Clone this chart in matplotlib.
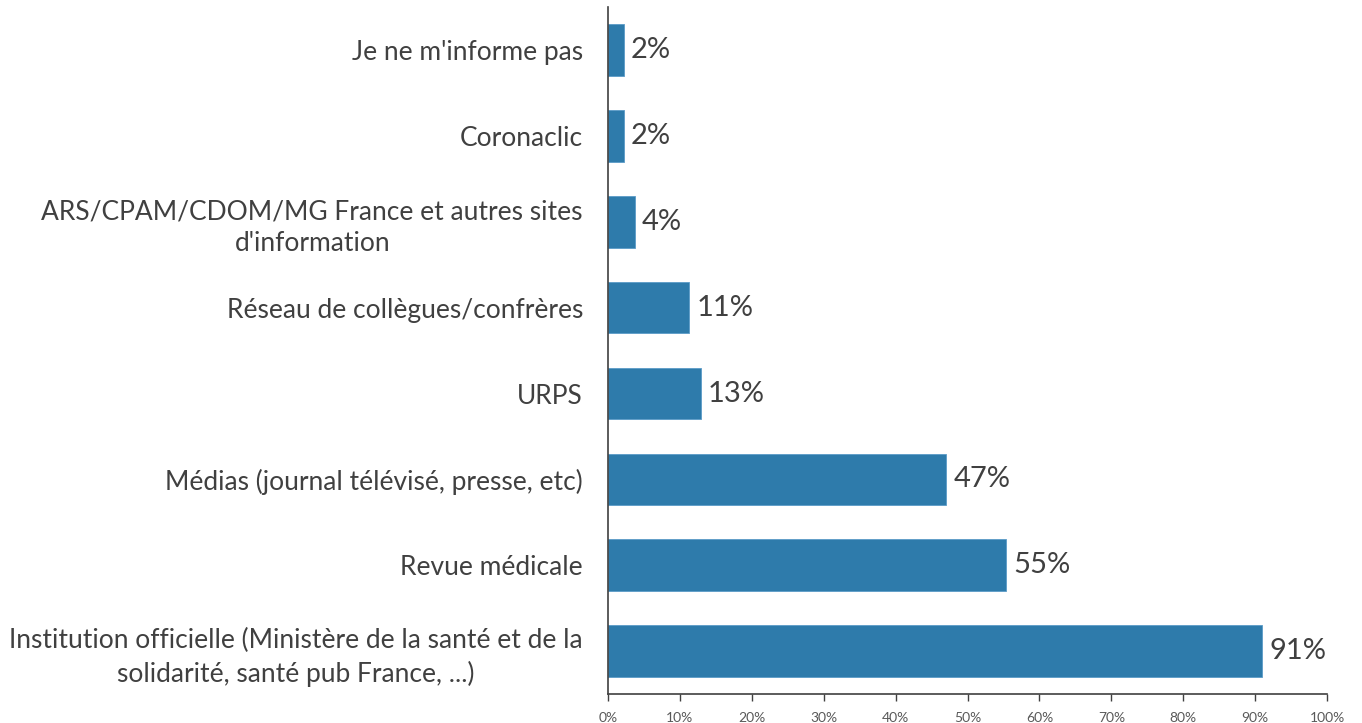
import matplotlib.pyplot as plt
from matplotlib.ticker import PercentFormatter

plt.rcParams['font.family'] = ['Lato', 'DejaVu Sans']

categories = [
    "Institution officielle (Ministère de la santé et de la\nsolidarité, santé pub France, ...)",
    "Revue médicale",
    "Médias (journal télévisé, presse, etc)",
    "URPS",
    "Réseau de collègues/confrères",
    "ARS/CPAM/CDOM/MG France et autres sites\nd'information",
    "Coronaclic",
    "Je ne m'informe pas",
]
values = [91.0, 55.3, 47.0, 12.9, 11.3, 3.7, 2.2, 2.2]
labels = ["91%", "55%", "47%", "13%", "11%", "4%", "2%", "2%"]

fig = plt.figure(figsize=(13.62, 7.23), dpi=100)
ax = fig.add_axes([0.4464, 0.0401, 0.528, 0.950])

pos = range(len(categories))
bars = ax.barh(pos, values, height=0.6, color="#2E7BAB", edgecolor="#5B9BC8", linewidth=0.6)

for b, lab in zip(bars, labels):
    ax.text(b.get_width() + 1.0, b.get_y() + b.get_height() / 2, lab,
            va="center", ha="left", fontsize=21, color="#404040")

ax.set_xlim(0, 100)
ax.set_ylim(-0.5, len(categories) - 0.5)
ax.set_xticks(range(0, 101, 10))
ax.xaxis.set_major_formatter(PercentFormatter(decimals=0))
ax.tick_params(axis="x", length=5, width=1, color="#404040", labelsize=10,
               labelcolor="#595959", pad=8)
ax.set_yticks(list(pos))
ax.set_yticklabels(categories)
ax.tick_params(axis="y", length=0, pad=18, labelsize=19, labelcolor="#404040")
for t in ax.get_yticklabels():
    t.set_multialignment("center")
    t.set_linespacing(1.35)

for s in ["top", "right"]:
    ax.spines[s].set_visible(False)
for s in ["left", "bottom"]:
    ax.spines[s].set_color("#404040")
    ax.spines[s].set_linewidth(1.2)

fig.savefig("out.png", dpi=100)
